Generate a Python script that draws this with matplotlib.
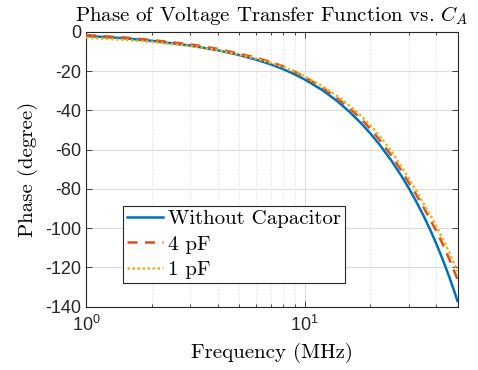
import math
import matplotlib
matplotlib.use("Agg")
import matplotlib.pyplot as plt
from matplotlib.ticker import FixedLocator, FuncFormatter, LogLocator, NullFormatter

# ---- data ----
freq_mhz = [1, 1.5, 2, 3, 4, 5, 6, 7, 8, 9, 10, 12, 14, 16, 18, 20, 22, 25, 28,
            30, 32, 35, 38, 40, 42, 44, 46, 48, 50]
phase_without = [-2.0, -3.2, -4.5, -6.9, -9.3, -11.7, -14.1, -16.5, -19.0, -21.6,
                 -24.2, -29.5, -35.0, -40.6, -46.2, -51.8, -57.4, -65.8, -74.2,
                 -79.8, -85.4, -93.8, -102.3, -108.0, -113.8, -119.6, -125.4,
                 -131.3, -137.2]
phase_4pf = [-1.6, -2.8, -4.1, -6.3, -8.6, -11.0, -13.1, -15.3, -17.6, -20.2,
             -23.0, -28.2, -33.5, -38.7, -44.0, -49.5, -55.0, -63.2, -71.5,
             -77.0, -82.0, -89.5, -96.8, -101.5, -106.3, -111.2, -116.2,
             -121.2, -126.2]
phase_1pf = [-2.9, -4.0, -5.0, -7.1, -9.3, -11.5, -13.6, -15.7, -17.9, -20.2,
             -22.6, -27.5, -32.5, -37.5, -42.5, -47.6, -53.0, -61.0, -69.5,
             -75.0, -80.0, -87.5, -94.5, -99.0, -103.7, -108.3, -112.9,
             -117.5, -122.0]
series_labels = ["Without Capacitor", "4 pF", "1 pF"]
y_ticks = [-140, -120, -100, -80, -60, -40, -20, 0]

plt.rcParams["axes.unicode_minus"] = False
plt.rcParams["mathtext.fontset"] = "custom"
plt.rcParams["mathtext.rm"] = "Liberation Sans"
plt.rcParams["mathtext.it"] = "Liberation Sans:italic"
plt.rcParams["mathtext.bf"] = "Liberation Sans:bold"

W, H = 478, 370
fig = plt.figure(figsize=(W / 100, H / 100), dpi=100)
ax = fig.add_axes([86 / W, 1 - 306.5 / H, (457.5 - 86) / W, (306.5 - 32) / H])

c_blue, c_orange, c_yellow = "#0072BD", "#D95319", "#EDB120"
ax.plot(freq_mhz, phase_without, color=c_blue, lw=1.8, label=series_labels[0], zorder=3)
ax.plot(freq_mhz, phase_4pf, color=c_orange, lw=1.8, ls=(0, (4, 3)), label=series_labels[1], zorder=4)
ax.plot(freq_mhz, phase_1pf, color=c_yellow, lw=1.8, ls=(0, (1, 1)), label=series_labels[2], zorder=5)

ax.set_xscale("log")
ax.set_xlim(1, 50)
ax.set_ylim(-140, 0)

ax.xaxis.set_major_locator(FixedLocator([1, 10]))
ax.xaxis.set_major_formatter(FuncFormatter(
    lambda v, p: r"$10^{%d}$" % round(math.log10(v))))
ax.xaxis.set_minor_locator(LogLocator(base=10, subs=range(2, 10)))
ax.xaxis.set_minor_formatter(NullFormatter())
ax.yaxis.set_major_locator(FixedLocator(y_ticks))
ax.set_yticklabels([str(t) for t in y_ticks])

tick_col = "#262626"
ax.tick_params(axis="both", which="both", direction="in", top=True, right=True,
               colors=tick_col, labelsize=13)
ax.tick_params(axis="both", which="major", length=4, width=0.6)
ax.tick_params(axis="both", which="minor", length=2.5, width=0.6)
ax.tick_params(axis="x", which="major", pad=6)
for lab in ax.get_xticklabels() + ax.get_yticklabels():
    lab.set_fontfamily("Liberation Sans")
for s in ax.spines.values():
    s.set_color(tick_col)
    s.set_linewidth(0.8)

ax.grid(True, which="major", color="#dcdcdc", lw=0.8, ls="-")
ax.grid(True, which="minor", axis="x", color="#d0d0d0", lw=0.6, ls=(0, (1, 2)))
ax.set_axisbelow(True)

ax.set_title(r"Phase of Voltage Transfer Function vs. $C_A$", fontfamily="cmr10",
             fontsize=15, math_fontfamily="cm", pad=8, color="black")
ax.set_xlabel("Frequency (MHz)", fontfamily="cmr10", fontsize=15, labelpad=6)
ax.set_ylabel("Phase (degree)", fontfamily="cmr10", fontsize=15, labelpad=5)

leg = ax.legend(loc="lower left", bbox_to_anchor=(0.0996, 0.0856),
                prop={"family": "cmr10", "size": 15}, frameon=True, fancybox=False,
                edgecolor=tick_col, framealpha=1, handlelength=1.7,
                handletextpad=0.25, borderpad=0.2, labelspacing=0.32,
                borderaxespad=0)
leg.get_frame().set_linewidth(0.8)

fig.savefig("out.png", dpi=100)
